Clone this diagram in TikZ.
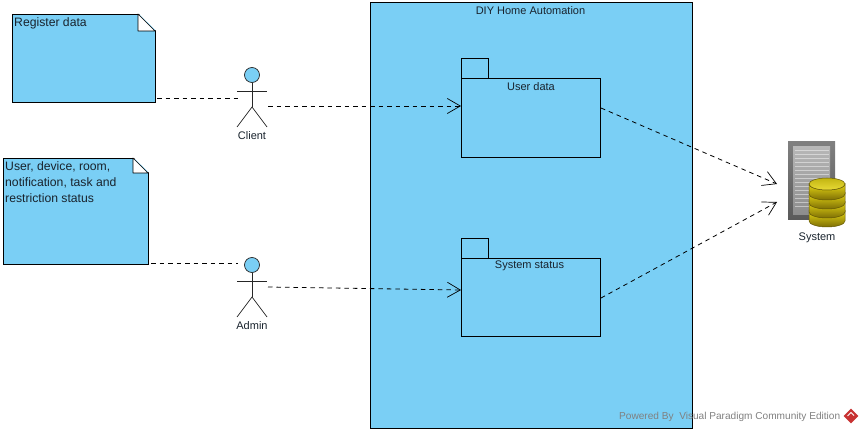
\documentclass[tikz,border=0pt]{standalone}
\usepackage{fontspec}
\setmainfont{Liberation Sans}
\usetikzlibrary{arrows.meta,shapes.geometric}
\definecolor{boxblue}{RGB}{122,207,245}
\definecolor{gold}{RGB}{228,212,20}
\definecolor{golddark}{RGB}{125,110,5}
\definecolor{inktext}{RGB}{25,35,45}
\definecolor{markred}{RGB}{200,50,50}
\begin{document}
\begin{tikzpicture}[x=1pt,y=-1pt,font=\fontsize{11}{13.5}\selectfont,text=inktext]
  \tikzstyle{bluebox}=[rectangle,draw=black,fill=boxblue,line width=0.8pt,inner sep=0pt,minimum width=0pt]
  \tikzstyle{label}=[inner sep=0pt,text=inktext]
  \tikzstyle{notetext}=[label,anchor=north west,align=left,font=\fontsize{12.2}{16}\selectfont]
  \tikzstyle{fold}=[draw=black,fill=white,line width=0.7pt,line join=round]
  \tikzstyle{limb}=[draw=black!85,line width=0.7pt]
  \tikzstyle{head}=[circle,draw=black!85,fill=boxblue,line width=0.7pt,minimum size=15pt,inner sep=0pt]
  \tikzstyle{tie}=[dashed,dash pattern=on 4.5pt off 4pt,line width=0.8pt,black]
  \tikzstyle{dep}=[tie,-{Straight Barb[length=13pt,width=15pt,line width=0.7pt]}]
  \tikzstyle{disc}=[draw=golddark!80!black,line width=0.5pt,top color=gold,bottom color=golddark]
  \useasboundingbox (0,0) rectangle (863,433);

  % notes
  \node[bluebox,minimum width=143pt,minimum height=88pt] (note_reg) at (83.5,58) {};
  \fill[white] (138,13) -- (156.5,13) -- (156.5,31) -- cycle;
  \path[fold] (138,14) -- (155,31) -- (138,31) -- cycle;
  \node[notetext] (note_reg_text) at (14,17.5) {Register data};

  \node[bluebox,minimum width=145pt,minimum height=106pt] (note_status) at (75.5,211) {};
  \fill[white] (133,157) -- (149.5,157) -- (149.5,173) -- cycle;
  \path[fold] (133,158) -- (148,173) -- (133,173) -- cycle;
  \node[notetext] (note_status_text) at (5,161.5)
        {User, device, room,\\notification, task and\\restriction status};

  % subsystem
  \node[bluebox,minimum width=322pt,minimum height=426pt] (sys) at (531,215) {};
  \node[label] (sys_text) at (530.5,10.5) {DIY Home Automation};

  % packages
  \node[bluebox,minimum width=27pt,minimum height=20pt] (user_tab) at (474.5,68) {};
  \node[bluebox,minimum width=139pt,minimum height=79pt] (user_pkg) at (530.5,117.5) {};
  \node[label] (user_text) at (531,87) {User data};
  \node[bluebox,minimum width=27pt,minimum height=20pt] (status_tab) at (474.5,248) {};
  \node[bluebox,minimum width=139pt,minimum height=78pt] (status_pkg) at (530.5,297) {};
  \node[label] (status_text) at (529.5,266) {System status};

  % actors
  \node[head] (client) at (252,75) {};
  \coordinate (client_hip) at (252,107);
  \coordinate (client_l) at (237,127);
  \coordinate (client_r) at (267,127);
  \coordinate (client_al) at (237,91);
  \coordinate (client_ar) at (267,91);
  \draw[limb] (client) -- (client_hip);
  \draw[limb] (client_al) -- (client_ar);
  \draw[limb] (client_l) -- (client_hip) -- (client_r);
  \node[label] (client_text) at (252,136) {Client};

  \node[head] (admin) at (252,265) {};
  \coordinate (admin_hip) at (252,297);
  \coordinate (admin_l) at (237,317);
  \coordinate (admin_r) at (267,317);
  \coordinate (admin_al) at (237,281);
  \coordinate (admin_ar) at (267,281);
  \draw[limb] (admin) -- (admin_hip);
  \draw[limb] (admin_al) -- (admin_ar);
  \draw[limb] (admin_l) -- (admin_hip) -- (admin_r);
  \node[label] (admin_text) at (252,326) {Admin};

  % server and database
  \node[rectangle,top color=black!50,bottom color=black!65,minimum width=47pt,minimum height=78pt,inner sep=0pt] (server) at (811.5,181) {};
  \node[rectangle,top color=black!28,bottom color=black!45,minimum width=37pt,minimum height=68pt,inner sep=0pt] (server_face) at (811.5,181) {};
  \foreach \y in {150,154,...,206}
    \draw[white,opacity=0.45,line width=0.8pt] (795,\y) -- (829,\y);
  \foreach \y in {221,212,203,194}
    \path[disc] (809,\y-10) -- (809,\y) arc[start angle=180,end angle=0,x radius=18,y radius=6]
      -- (845,\y-10) arc[start angle=0,end angle=180,x radius=18,y radius=6] -- cycle;
  \path[disc,top color=gold!85!black,bottom color=gold!85!white] (827,184) ellipse[x radius=18,y radius=6];
  \node[label] (server_text) at (817,238) {System};

  % connectors
  \coordinate (note_reg_out) at (157,98);
  \coordinate (client_in) at (238,98);
  \coordinate (note_status_out) at (151,263.5);
  \coordinate (admin_in) at (238,263.5);
  \coordinate (client_out) at (268,106);
  \coordinate (user_in) at (461,106);
  \coordinate (admin_out) at (268,287);
  \coordinate (status_in) at (461,290);
  \coordinate (user_out) at (601,108);
  \coordinate (status_out) at (601,298);
  \coordinate (server_a) at (777,184);
  \coordinate (server_b) at (777,202);
  \draw[tie] (note_reg_out) -- (client_in);
  \draw[tie] (note_status_out) -- (admin_in);
  \draw[dep] (client_out) -- (user_in);
  \draw[dep] (admin_out) -- (status_in);
  \draw[dep] (user_out) -- (server_a);
  \draw[dep] (status_out) -- (server_b);

  % watermark
  \node[label,anchor=west,text=black!50,font=\fontsize{10.1}{12}\selectfont] (mark_text) at (619,417)
        {Powered By \ Visual Paradigm Community Edition};
  \node[diamond,fill=markred,minimum size=15pt,inner sep=0pt] (mark_logo) at (851,416) {};
  \draw[white,line width=1pt] (847.5,416) -- (851,412.5) -- (854,415.5);
\end{tikzpicture}
\end{document}
